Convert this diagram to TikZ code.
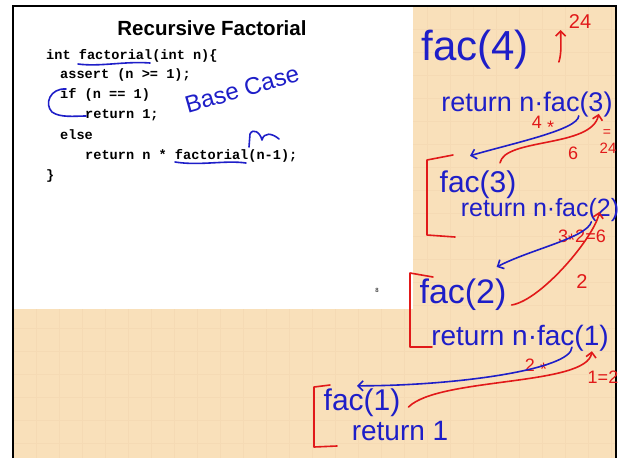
\documentclass[tikz,border=0pt]{standalone}
\usepackage{fontspec}
\setmainfont{Liberation Sans}
\newfontfamily\codefont{Liberation Mono}
\usetikzlibrary{arrows.meta}

\definecolor{paper}{RGB}{249,224,186}
\definecolor{paperline}{RGB}{245,218,180}
\definecolor{ink}{RGB}{30,30,200}
\definecolor{redink}{RGB}{225,25,25}

\begin{document}
\begin{tikzpicture}[x=1pt,y=-1pt,>={Straight Barb[length=5pt,width=10pt]},
 code/.style={anchor=west,inner sep=0,font=\codefont\bfseries\fontsize{13.6}{14}\selectfont},
 hand/.style={inner sep=0,text=ink,font=\fontsize{#1}{#1}\selectfont},
 redhand/.style={inner sep=0,text=redink,font=\fontsize{#1}{#1}\selectfont},
 bluepen/.style={draw=ink,line width=1.6pt,line cap=round,line join=round},
 redpen/.style={draw=redink,line width=1.6pt,line cap=round,line join=round}]
 \useasboundingbox (0,0) rectangle (621,458);
 % paper, slide and frame
 \fill[white] (0,0) rectangle (621,458);
 \fill[paper] (13,6) rectangle (616,458);
 \foreach \gx in {36,59,...,616} \draw[paperline,line width=.6pt] (\gx,6) -- (\gx,458);
 \foreach \gy in {29,52,...,458} \draw[paperline,line width=.6pt] (13,\gy) -- (616,\gy);
 \fill[white] (14,7) rectangle (413,309);
 \draw[line width=1.6pt] (13,458) -- (13,6) -- (616,6) -- (616,458);

 % slide
 \node[font=\bfseries\fontsize{20.5}{22}\selectfont] (title) at (212,28) {Recursive Factorial};
 \node[code] (c1) at (46,56) {int factorial(int n)\{};
 \node[code] (c2) at (60,75) {assert (n >= 1);};
 \node[code] (c3) at (60,95) {if (n == 1)};
 \node[code] (c4) at (85,115) {return 1;};
 \node[code] (c5) at (60,135) {else};
 \node[code] (c6) at (85,156) {return n * factorial(n-1);};
 \node[code] (c7) at (46,176) {\}};
 \node[font=\fontsize{6}{6}\selectfont] (pg) at (377,290) {8};

 % notes on the code
 \draw[bluepen] (78,64) .. controls (100,67) and (125,61) .. (150,63);
 \draw[bluepen] (66,89) .. controls (50,88) and (44,104) .. (52,112)
   .. controls (60,118) and (75,116) .. (86,116);
 \node[hand=24,rotate=16] (basecase) at (242,89) {Base Case};
 \draw[bluepen] (175,162) .. controls (200,166) and (225,160) .. (246,163);
 \draw[bluepen] (249,147) -- (250,134) .. controls (253,128) and (260,132) .. (262,140)
   .. controls (264,132) and (272,133) .. (279,139);

 \begin{scope}
 \clip (13,0) rectangle (617,458);
 % fac(4)
 \node[hand=42] (fac4) at (475,50) {fac(4)};
 \node[redhand=20] (res4) at (580,22) {24};
 \draw[redpen,->] ([xshift=30pt,yshift=-12pt]fac4.east) .. controls +(3,-10) and +(0,12) .. ([xshift=-8pt,yshift=-8pt]res4.west);
 \node[hand=27] (ret4) at (527,105) {return n·fac(3)};
 \node[redhand=18] (mul4) at (543,125) {4 \raisebox{-.25em}{*}};
 % fac(3)
 \node[hand=30] (fac3) at (478,185) {fac(3)};
 \node[hand=25] (ret3) at (540,210) {return n·fac(2)};
 \node[redhand=18] (six) at (573,153) {6};
 \node[redhand=14] (eqs) at (607,133) {=};
 \node[redhand=15] (t24) at (608,148) {24};
 \draw[bluepen,->] ([xshift=-34pt,yshift=2pt]ret4.south east) .. controls +(0,14) and +(40,-12) .. ([xshift=-8pt,yshift=15pt]fac3.north);
 \draw[redpen,->] ([xshift=22pt,yshift=8pt]fac3.north) .. controls +(5,-25) and +(-7,34) .. ([xshift=-14pt,yshift=4pt]ret4.south east);
 \draw[redpen] (453,155) -- (427,160) -- (427,235) -- (455,237);
 \node[redhand=18] (mul3) at (582,238) {3\raisebox{-.25em}{*}2=6};
 % fac(2)
 \node[hand=34] (fac2) at (463,295) {fac(2)};
 \node[hand=28] (ret2) at (520,338) {return n·fac(1)};
 \node[redhand=20] (two) at (582,282) {2};
 \draw[bluepen,->] ([xshift=-28pt,yshift=0pt]ret3.south east) .. controls +(-5,16) and +(35,-18) .. ([xshift=-10pt,yshift=12pt]fac2.north east);
 \draw[redpen,->] ([xshift=5pt,yshift=-10pt]fac2.east) .. controls +(30,-5) and +(-5,25) .. ([xshift=-20pt,yshift=10pt]ret3.south east);
 \draw[redpen] (433,277) -- (410,273) -- (410,347) -- (432,347);
 % fac(1)
 \node[redhand=18] (mul2) at (536,367) {2 \raisebox{-.25em}{*}};
 \node[hand=30] (fac1) at (362,403) {fac(1)};
 \node[hand=28] (ret1) at (400,431) {return 1};
 \node[redhand=18] (oneeq) at (603,377) {1=2};
 \draw[bluepen,->] ([xshift=-37pt,yshift=4pt]ret2.south east) .. controls +(0,22) and +(100,0) .. ([xshift=-5pt,yshift=3pt]fac1.north);
 \draw[redpen,->] ([xshift=8pt,yshift=-4pt]fac1.east) .. controls +(30,-30) and +(-5,35) .. ([xshift=-17pt,yshift=0pt]ret2.south east);
 \draw[redpen] (330,385) -- (314,387) -- (314,447) -- (337,446);
 \end{scope}
\end{tikzpicture}
\end{document}
